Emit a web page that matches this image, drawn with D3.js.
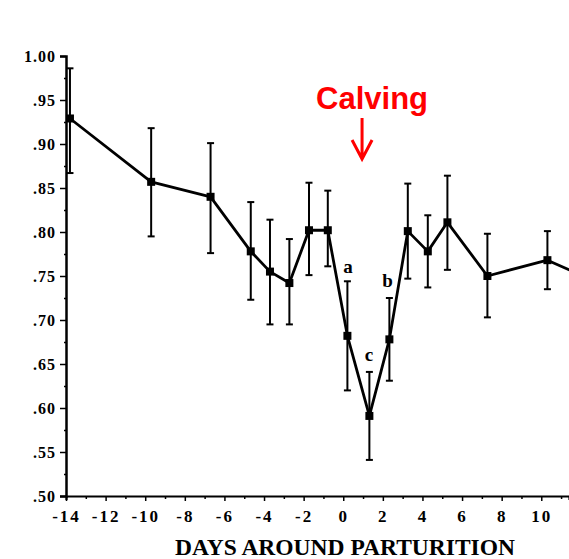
<!DOCTYPE html>
<html>
<head>
<meta charset="utf-8">
<script src="https://cdn.jsdelivr.net/npm/d3@7"></script>
<style>
  body { margin: 0; background: #fff; }
  .tick text { font-family: "Liberation Serif", "DejaVu Serif", serif; font-weight: bold; }
</style>
</head>
<body>
<div id="chart"></div>
<script>
// days around parturition (as plotted), means and error bar ends
const days  = [-13.8, -9.7, -6.7, -4.67, -3.7, -2.72, -1.73, -0.78, 0.21, 1.32, 2.33, 3.26, 4.27, 5.26, 7.28, 10.31, 12.3];
const means = [0.929, 0.857, 0.840, 0.778, 0.755, 0.742, 0.802, 0.802, 0.682, 0.591, 0.678, 0.801, 0.778, 0.811, 0.750, 0.768, 0.748];
const upper = [0.986, 0.918, 0.901, 0.834, 0.814, 0.792, 0.856, 0.847, 0.744, 0.641, 0.725, 0.855, 0.819, 0.864, 0.798, 0.801, 0.790];
const lower = [0.867, 0.795, 0.776, 0.723, 0.695, 0.695, 0.751, 0.761, 0.620, 0.541, 0.631, 0.747, 0.737, 0.757, 0.703, 0.735, 0.706];

const xTicks = d3.range(-14, 12);
const yTicks = d3.range(0, 21).map(i => 0.5 + i * 0.025);

// significance letters
const letters = [
  { t: 'a', day: 0.24, v: 0.753 },
  { t: 'b', day: 2.24, v: 0.737 },
  { t: 'c', day: 1.30, v: 0.653 }
];
const calvingDay = 0.95;

const W = 569, H = 559;
const svg = d3.select('#chart').append('svg')
  .attr('width', W)
  .attr('height', H);

const x = d3.scaleLinear().domain([-14, 11.4]).range([66, 569]);
const y = d3.scaleLinear().domain([0.5, 1.0]).range([496, 56]);

// x axis
const xAxis = svg.append('g')
  .attr('transform', `translate(0, ${y(0.5)})`)
  .call(d3.axisBottom(x)
    .tickValues(xTicks)
    .tickSizeOuter(0)
    .tickSize(4)
    .tickPadding(10)
    .tickFormat(d => d % 2 === 0 ? d : ''));
xAxis.select('.domain').attr('stroke-width', 2.2);
xAxis.selectAll('.tick line')
  .attr('stroke-width', 1.5)
  .attr('y2', d => d % 2 === 0 ? 5 : 3);
xAxis.selectAll('.tick text')
  .attr('font-size', 17)
  .attr('letter-spacing', 2)
  .attr('fill', '#000')
  .text(d => d % 2 === 0 ? (d < 0 ? '-' + Math.abs(d) : d) : '');

// y axis
const yAxis = svg.append('g')
  .attr('transform', `translate(${x(-14)}, 0)`)
  .call(d3.axisLeft(y)
    .tickValues(yTicks)
    .tickSizeOuter(0)
    .tickSize(6)
    .tickPadding(4)
    .tickFormat(d => {
      const k = Math.round(d * 1000);
      if (k % 50 !== 0) return '';
      return k === 1000 ? '1.00' : d3.format('.2f')(d).slice(1);
    }));
yAxis.select('.domain').attr('stroke-width', 2.5);
yAxis.selectAll('.tick line')
  .attr('stroke-width', 1.5)
  .attr('x2', d => Math.round(d * 1000) % 50 === 0 ? -6 : -2);
yAxis.selectAll('.tick text')
  .attr('font-size', 16)
  .attr('letter-spacing', 1)
  .attr('fill', '#000');

// error bars
const bars = svg.append('g').attr('class', 'errbars');
days.forEach((d, i) => {
  const cx = x(d);
  bars.append('line')
    .attr('x1', cx).attr('x2', cx)
    .attr('y1', y(upper[i])).attr('y2', y(lower[i]))
    .attr('stroke', '#000').attr('stroke-width', 2);
  [upper[i], lower[i]].forEach(v => {
    bars.append('line')
      .attr('x1', cx - 3.5).attr('x2', cx + 3.5)
      .attr('y1', y(v)).attr('y2', y(v))
      .attr('stroke', '#000').attr('stroke-width', 2);
  });
});

// mean line
const line = d3.line()
  .x((d, i) => x(days[i]))
  .y(d => y(d));
svg.append('path')
  .datum(means)
  .attr('d', line)
  .attr('fill', 'none')
  .attr('stroke', '#000')
  .attr('stroke-width', 2.8)
  .attr('stroke-linejoin', 'round');

svg.append('g').selectAll('rect')
  .data(means)
  .enter().append('rect')
  .attr('x', (d, i) => x(days[i]) - 4)
  .attr('y', d => y(d) - 4)
  .attr('width', 8)
  .attr('height', 8)
  .attr('fill', '#000');

// letters
svg.append('g').selectAll('text')
  .data(letters)
  .enter().append('text')
  .attr('x', d => x(d.day))
  .attr('y', d => y(d.v))
  .attr('text-anchor', 'middle')
  .attr('font-family', '"Liberation Serif", serif')
  .attr('font-weight', 'bold')
  .attr('font-size', 19)
  .attr('fill', '#000')
  .text(d => d.t);

// calving annotation
const ax = x(calvingDay);
svg.append('text')
  .attr('x', ax + 10)
  .attr('y', 109)
  .attr('text-anchor', 'middle')
  .attr('font-family', '"Liberation Sans", Arial, sans-serif')
  .attr('font-weight', 'bold')
  .attr('font-size', 31)
  .attr('fill', '#ff0000')
  .text('Calving');
svg.append('path')
  .attr('d', `M${ax},118 L${ax},159 M${ax - 10},140 L${ax},159 L${ax + 10},140`)
  .attr('fill', 'none')
  .attr('stroke', '#ff0000')
  .attr('stroke-width', 3);

// axis title
svg.append('text')
  .attr('x', 345)
  .attr('y', 555)
  .attr('text-anchor', 'middle')
  .attr('font-family', '"Liberation Serif", serif')
  .attr('font-weight', 'bold')
  .attr('font-size', 23.5)
  .attr('fill', '#000')
  .text('DAYS AROUND PARTURITION');
</script>
</body>
</html>
